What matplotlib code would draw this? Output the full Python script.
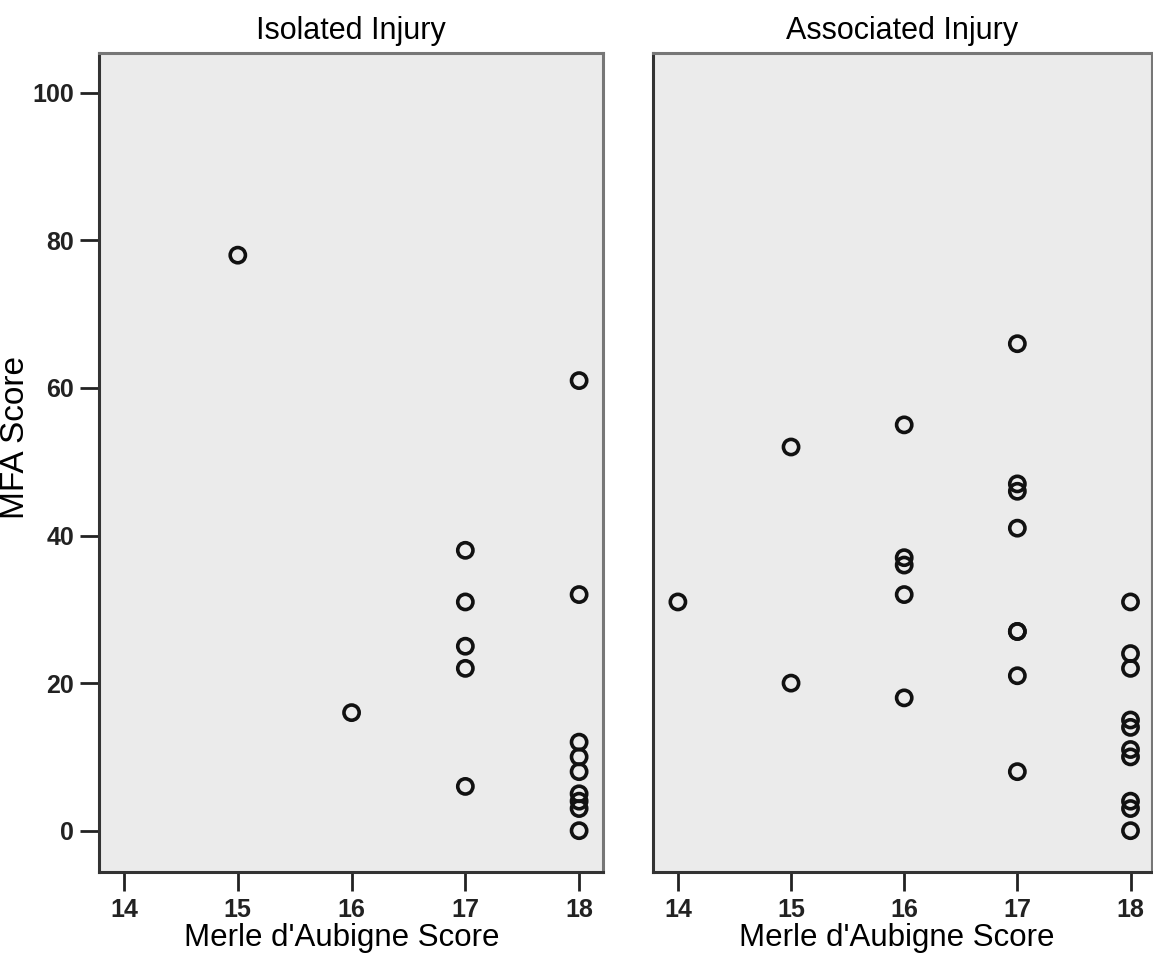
import matplotlib
matplotlib.use("Agg")
import matplotlib.pyplot as plt
from matplotlib import font_manager

names = {f.name for f in font_manager.fontManager.ttflist}
narrow = 'Liberation Sans Narrow' if 'Liberation Sans Narrow' in names else 'Liberation Sans'
plt.rcParams['font.family'] = ['Liberation Sans', 'DejaVu Sans']

panel_titles = ["Isolated Injury", "Associated Injury"]
x_label = "Merle d'Aubigne Score"
y_label = "MFA Score"
x_ticks = [14, 15, 16, 17, 18]
y_ticks = [0, 20, 40, 60, 80, 100]

iso_x = [15, 16, 17, 17, 17, 17, 17, 18, 18, 18, 18, 18, 18, 18, 18, 18]
iso_y = [78, 16, 38, 31, 25, 22, 6, 61, 32, 12, 10, 8, 5, 4, 3, 0]

ass_x = [14, 15, 15, 16, 16, 16, 16, 16, 17, 17, 17, 17, 17, 17, 17, 17,
         18, 18, 18, 18, 18, 18, 18, 18, 18, 18]
ass_y = [31, 52, 20, 55, 37, 36, 32, 18, 66, 47, 46, 41, 27, 27, 21, 8,
         31, 24, 22, 15, 14, 11, 10, 4, 3, 0]

W, H = 1153, 955
fig = plt.figure(figsize=(W / 100, H / 100), dpi=100)

boxes = [(99, 53, 603, 872), (653, 53, 1152, 872)]
data = [(iso_x, iso_y), (ass_x, ass_y)]
tick_font = dict(family=[narrow, 'Liberation Sans'], size=18, weight='bold')

for i, ((l, t, r, b), (xs, ys)) in enumerate(zip(boxes, data)):
    ax = fig.add_axes([l / W, 1 - b / H, (r - l) / W, (b - t) / H])
    ax.set_facecolor('#ebebeb')
    ax.scatter(xs, ys, s=120, facecolors='none', edgecolors='#111111', linewidths=2.6, zorder=3)
    ax.set_xlim(13.78, 18.21 if i == 0 else 18.19)
    ax.set_ylim(-5.6, 105.4)
    ax.set_xticks(x_ticks)
    ax.set_xticklabels([str(v) for v in x_ticks], color='#222222', **tick_font)
    ax.tick_params(axis='x', length=14, width=2, color='#222222', pad=5, direction='out')
    if i == 0:
        ax.set_yticks(y_ticks)
        ax.set_yticklabels([str(v) for v in y_ticks], color='#222222', **tick_font)
        ax.tick_params(axis='y', length=14, width=2, color='#222222', pad=4, direction='out')
        ax.set_ylabel(y_label, fontsize=24)
        ax.yaxis.set_label_coords(-0.135, 0.53)
    else:
        ax.set_yticks([])
    for side in ['left', 'bottom']:
        ax.spines[side].set_color('#333333')
        ax.spines[side].set_linewidth(2.2)
    for side in ['top', 'right']:
        ax.spines[side].set_color('#777777')
        ax.spines[side].set_linewidth(2.2)
    ax.set_title(panel_titles[i], fontsize=22, pad=10)
    ax.set_xlabel(x_label, fontsize=22.5, labelpad=0)
    ax.xaxis.set_label_coords(0.482 if i == 0 else 0.489, -0.062)

fig.savefig('out.png', dpi=100, facecolor='white')
